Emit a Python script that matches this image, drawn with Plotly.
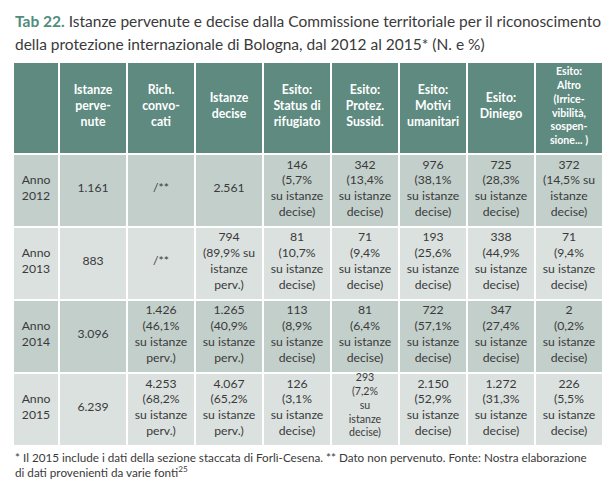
import plotly.graph_objects as go

# ---------------- data ----------------
column_headers = [
    "",
    "Istanze<br>perve-<br>nute",
    "Rich.<br>convo-<br>cati",
    "Istanze<br>decise",
    "Esito:<br>Status di<br>rifugiato",
    "Esito:<br>Protez.<br>Sussid.",
    "Esito:<br>Motivi<br>umanitari",
    "Esito:<br>Diniego",
    "Esito:<br>Altro<br>(Irrice-<br>vibilità,<br>sospen-<br>sione... )",
]
anni = ["2012", "2013", "2014", "2015"]
istanze_pervenute = ["1.161", "883", "3.096", "6.239"]
rich_convocati = [None, None, "1.426", "4.253"]
pct_convocati = [None, None, "46,1", "68,2"]
istanze_decise = ["2.561", "794", "1.265", "4.067"]
pct_decise = [None, "89,9", "40,9", "65,2"]
status_rifugiato = ["146", "81", "113", "126"]
pct_rifugiato = ["5,7", "10,7", "8,9", "3,1"]
protez_sussid = ["342", "71", "81", "293"]
pct_sussid = ["13,4", "9,4", "6,4", "7,2"]
motivi_umanitari = ["976", "193", "722", "2.150"]
pct_umanitari = ["38,1", "25,6", "57,1", "52,9"]
diniego = ["725", "338", "347", "1.272"]
pct_diniego = ["28,3", "44,9", "27,4", "31,3"]
altro = ["372", "71", "2", "226"]
pct_altro = ["14,5", "9,4", "0,2", "5,5"]

title_tag = "Tab 22."
title_line1 = " Istanze pervenute e decise dalla Commissione territoriale per il riconoscimento"
title_line2 = "della protezione internazionale di Bologna, dal 2012 al 2015* (N. e %)"
note_line1 = "* Il 2015 include i dati della sezione staccata di Forlì-Cesena. ** Dato non pervenuto. Fonte: Nostra elaborazione"
note_line2 = "di dati provenienti da varie fonti<sup>25</sup>"

# ---------------- layout / style ----------------
W, H = 612, 484
x_edges = [5, 51, 119, 187, 255, 323, 391, 459, 527, 595]
y_edges = [54, 146, 218.5, 291.5, 364.5, 438]
HEADER_C = "#5e8a7f"
DARK_C = "#c3cfcb"
LIGHT_C = "#dbe1df"
TEXT_C = "#3a3a3a"
TAG_C = "#4f8d7d"
FONT = "Lato"

# line-break style overrides per cell (row, col)
wrap_style = {(0, 8): "b", (1, 3): "b", (3, 5): "c"}


def cell_text(n, pct, base, style="a"):
    if n is None:
        return "/**"
    if pct is None:
        return n
    if style == "b":
        return f"{n}<br>({pct}% su<br>istanze<br>{base})"
    if style == "c":
        return f"{n}<br>({pct}%<br>su<br>istanze<br>{base})"
    return f"{n}<br>({pct}%<br>su istanze<br>{base})"


rows = []
for i, a in enumerate(anni):
    cols = [
        (f"Anno<br>{a}", None, None),
        (istanze_pervenute[i], None, None),
        (rich_convocati[i], pct_convocati[i], "perv."),
        (istanze_decise[i], pct_decise[i], "perv."),
        (status_rifugiato[i], pct_rifugiato[i], "decise"),
        (protez_sussid[i], pct_sussid[i], "decise"),
        (motivi_umanitari[i], pct_umanitari[i], "decise"),
        (diniego[i], pct_diniego[i], "decise"),
        (altro[i], pct_altro[i], "decise"),
    ]
    r = []
    for j, (n, p, b) in enumerate(cols):
        if j == 0:
            r.append(n)
        else:
            r.append(cell_text(n, p, b, wrap_style.get((i, j), "a")))
    rows.append(r)

# background bricks
z = [[0] * 9]
for i in range(len(anni)):
    z.append([1 if i % 2 == 0 else 2] * 9)

fig = go.Figure()
fig.add_trace(go.Heatmap(
    x=x_edges, y=y_edges, z=z,
    colorscale=[[0, HEADER_C], [0.5, DARK_C], [1, LIGHT_C]],
    zmin=0, zmax=2, showscale=False, xgap=2, ygap=2, hoverinfo="skip",
))


def cell_points(texts_grid, yoff, size_normal, size_tall, tall_lines, tall_shift):
    xs, ys, ts, ss = [], [], [], []
    for ri, row in enumerate(texts_grid):
        for ci, t in enumerate(row):
            if not t:
                continue
            n = t.count("<br>") + 1
            tall = n >= tall_lines
            xs.append((x_edges[ci] + x_edges[ci + 1]) / 2)
            ys.append((y_edges[ri] + y_edges[ri + 1]) / 2 + yoff + (tall_shift if tall else 0))
            ts.append(t)
            ss.append(size_tall if tall else size_normal)
    return xs, ys, ts, ss


hx, hy, ht, hs = cell_points([column_headers], -1, 12.3, 10.6, 5, 0)
fig.add_trace(go.Scatter(
    x=hx, y=hy, text=ht, mode="text", textposition="middle center",
    textfont=dict(family=FONT, size=hs, color="white", weight="bold"),
    hoverinfo="skip", showlegend=False,
))

bx, by, bt, bs = cell_points([[None] * 9] + rows, -1, 12.2, 10.6, 5, -2)
fig.add_trace(go.Scatter(
    x=bx, y=by, text=bt, mode="text", textposition="middle center",
    textfont=dict(family=FONT, size=bs, color=TEXT_C),
    hoverinfo="skip", showlegend=False,
))

annotations = [
    dict(x=5, y=13, xref="x", yref="y", xanchor="left", yanchor="middle",
         text=f"<span style='color:{TAG_C}'><b>{title_tag}</b></span>{title_line1}",
         showarrow=False, font=dict(family=FONT, size=15.5, color=TEXT_C)),
    dict(x=5, y=36, xref="x", yref="y", xanchor="left", yanchor="middle",
         text=title_line2, showarrow=False,
         font=dict(family=FONT, size=15.5, color=TEXT_C)),
    dict(x=5, y=449, xref="x", yref="y", xanchor="left", yanchor="middle",
         text=note_line1, showarrow=False,
         font=dict(family=FONT, size=11.7, color=TEXT_C)),
    dict(x=5, y=463, xref="x", yref="y", xanchor="left", yanchor="middle",
         text=note_line2, showarrow=False,
         font=dict(family=FONT, size=11.7, color=TEXT_C)),
]

fig.update_layout(
    width=W, height=H, margin=dict(l=0, r=0, t=0, b=0),
    paper_bgcolor="white", plot_bgcolor="white",
    xaxis=dict(range=[0, W], visible=False, fixedrange=True),
    yaxis=dict(range=[H, 0], visible=False, fixedrange=True),
    annotations=annotations, showlegend=False,
)

fig.write_html("out.html", config={"displayModeBar": False})
